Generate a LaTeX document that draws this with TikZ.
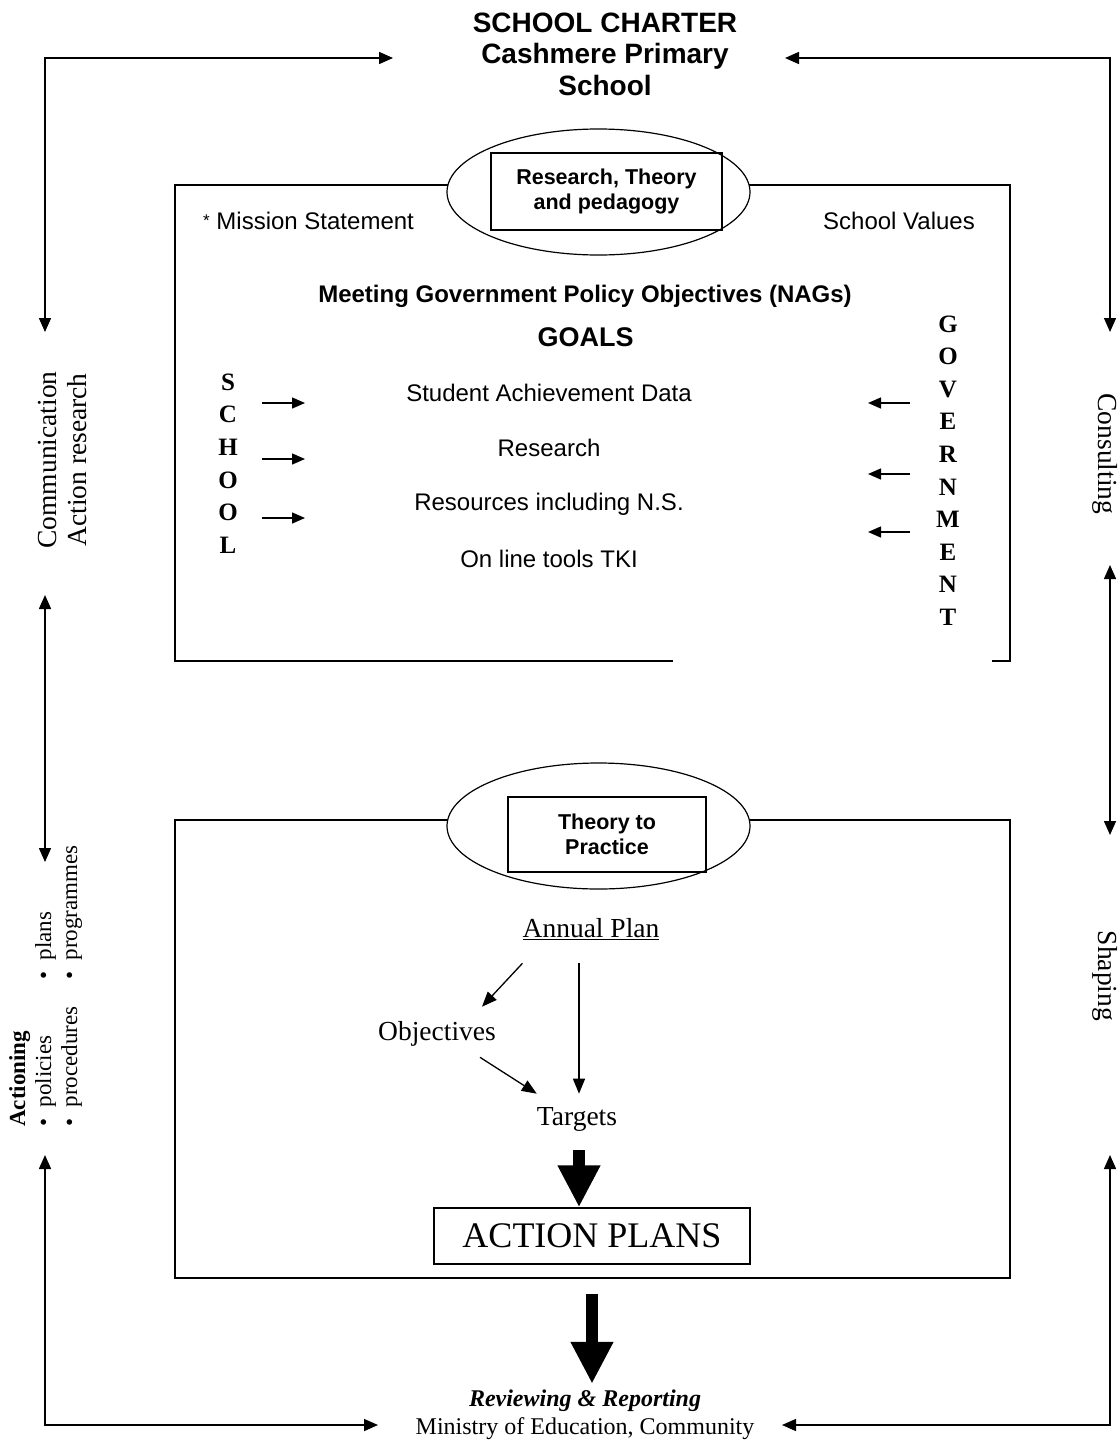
\documentclass[tikz,border=0pt]{standalone}
\usepackage{fontspec}
\setmainfont{Liberation Serif}
\setsansfont{Liberation Sans}
\usetikzlibrary{arrows.meta,shapes.geometric}
\newcommand{\fs}[2]{\fontsize{#1}{#2}\selectfont}

\tikzset{
  conn/.style={line width=1.5pt, {Triangle[length=14pt,width=12pt]}-{Triangle[length=14pt,width=12pt]}},
  smallarr/.style={line width=1.4pt, -{Triangle[length=13pt,width=11pt]}},
  planarr/.style={line width=1.3pt, -{Triangle[length=15pt,width=12pt]}},
  bigarr/.style={line width=12pt, -{Triangle[length=42pt,width=40pt]}},
  frame/.style={line width=1.5pt},
  hub/.style={ellipse, draw, line width=1.2pt, fill=white, minimum width=303pt, minimum height=126pt},
  hubbox/.style={draw, line width=1.5pt, font=\sffamily\bfseries\fs{21.5}{25}, align=center, inner sep=0pt},
  boxtxt/.style={font=\sffamily\fs{24}{28}, inner sep=0pt, text height=17.2pt, text depth=0pt},
  serif/.style={font=\fs{27.5}{30}, inner sep=0pt, text height=18.2pt, text depth=0pt},
  side/.style={font=\fs{27.5}{30}, align=center, inner sep=0pt},
  letters/.style={font=\bfseries\fs{25}{32.6}, align=center, inner sep=0pt},
}

\begin{document}
\begin{tikzpicture}[x=1pt,y=-1pt]
  \useasboundingbox (0,0) rectangle (1118,1443);

  % title
  \node[font=\sffamily\bfseries\fs{28}{31.5}, align=center] (title) at (605,54)
    {SCHOOL CHARTER\\Cashmere Primary\\School};

  % outer loop of arrows
  \coordinate (lt) at (45,332);   \coordinate (ttl) at (393,58);
  \coordinate (rt) at (1110,332); \coordinate (ttr) at (785,58);
  \coordinate (lm1) at (45,595);  \coordinate (lm2) at (45,862);
  \coordinate (rm1) at (1110,565); \coordinate (rm2) at (1110,835);
  \coordinate (lb) at (45,1155);  \coordinate (bbl) at (378,1425);
  \coordinate (rb) at (1110,1155); \coordinate (bbr) at (782,1425);
  \draw[conn] (lt) |- (ttl);
  \draw[conn] (rt) |- (ttr);
  \draw[conn] (lm1) -- (lm2);
  \draw[conn] (rm1) -- (rm2);
  \draw[conn] (lb) |- (bbl);
  \draw[conn] (rb) |- (bbr);

  % side labels
  \node[side, rotate=90] (comm) at (63,460) {Communication\\Action research};
  \node[side, rotate=-90] (consult) at (1105,454) {Consulting};
  \node[side, rotate=-90] (shape) at (1105,976) {Shaping};
  \node[rotate=90, anchor=north west, align=left, inner sep=0pt, font=\fs{23}{26}] (act) at (9,1127)
    {\textbf{Actioning}\\
     \makebox[147pt][l]{\textbullet\ \ policies}\textbullet\ \ plans\\
     \makebox[147pt][l]{\textbullet\ \ procedures}\textbullet\ \ programmes};

  % upper frame
  \draw[frame] (673,661) -- (175,661) -- (175,185) -- (1010,185) -- (1010,661) -- (992,661);
  \node[hub] (rtp) at (598.5,192) {};
  \node[hubbox, minimum width=231pt, minimum height=77pt] (rtpbox) at (606.5,191.5)
    {Research, Theory\\and pedagogy};

  \node[boxtxt, anchor=west] (mission) at (203,221) {\raisebox{3pt}{\fs{17}{17}*} Mission Statement};
  \node[boxtxt, anchor=east] (values) at (975,221) {School Values};
  \node[boxtxt, font=\sffamily\bfseries\fs{24}{28}] (nags) at (585,294)
    {Meeting Government Policy Objectives (NAGs)};
  \node[boxtxt, font=\sffamily\bfseries\fs{27}{30}, text height=19.4pt] (goals) at (585.5,337) {GOALS};
  \node[boxtxt] (data) at (549,393) {Student Achievement Data};
  \node[boxtxt] (research) at (549,448) {Research};
  \node[boxtxt] (resources) at (549,502) {Resources including N.S.};
  \node[boxtxt] (tools) at (549,559) {On line tools TKI};

  \node[letters] (school) at (228,463.5) {S\\C\\H\\O\\O\\L};
  \node[letters] (govt) at (948,470.5) {G\\O\\V\\E\\R\\N\\M\\E\\N\\T};
  \foreach \y in {403,459,518}
    \draw[smallarr] (262,\y) -- (305,\y);
  \foreach \y in {403,474,532}
    \draw[smallarr] (910,\y) -- (868,\y);

  % lower frame
  \draw[frame] (175,820) rectangle (1010,1278);
  \node[hub] (ttp) at (598.5,826) {};
  \node[hubbox, minimum width=198pt, minimum height=75pt] (ttpbox) at (607,834.5)
    {Theory to\\Practice};

  \node[serif] (plan) at (591,928) {\underline{Annual Plan}};
  \node[serif] (obj) at (437,1031) {Objectives};
  \node[serif] (tgt) at (577,1116) {Targets};
  \draw[planarr] ([yshift=-26pt]plan.south west) -- ([xshift=-14pt,yshift=15pt]obj.north east);
  \draw[planarr] ([xshift=2pt,yshift=-26pt]plan.south -| tgt.north) -- ([xshift=2pt,yshift=13pt]tgt.north);
  \draw[planarr] ([xshift=-16pt,yshift=-17pt]obj.south east) -- ([yshift=13pt]tgt.north west);

  \node[draw, line width=1.5pt, minimum width=316pt, minimum height=56pt, font=\fs{36}{40}] (plans) at (592,1236)
    {ACTION PLANS};
  \coordinate (bigtop) at (579,1150);
  \draw[bigarr] (bigtop) -- (bigtop |- plans.north);

  \node[align=center, inner sep=0pt, font=\fs{24}{28}] (review) at (585,1415)
    {\textbf{\textit{Reviewing \& Reporting}}\\Ministry of Education, Community};
  \draw[bigarr] ([yshift=-29pt]plans.south) -- ++(0,90);
\end{tikzpicture}
\end{document}
